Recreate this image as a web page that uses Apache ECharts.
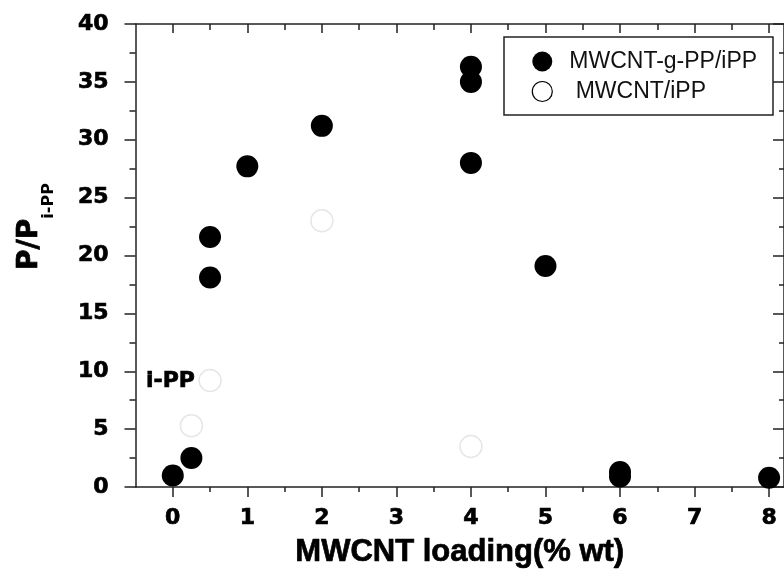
<!DOCTYPE html>
<html>
<head>
<meta charset="utf-8">
<script src="https://cdn.jsdelivr.net/npm/echarts@6/dist/echarts.min.js"></script>
<style>html,body{margin:0;padding:0;background:#fff}#c{width:784px;height:577px}</style>
</head>
<body>
<div id="c"></div>
<script>
// Data
const graftedX = [0, 0.25, 0.5, 0.5, 1, 2, 4, 4, 4, 5, 6, 6, 8];
const graftedY = [1.0, 2.5, 21.6, 18.1, 27.7, 31.2, 36.3, 35.0, 28.0, 19.1, 1.3, 0.9, 0.8];
const plainX = [0.25, 0.5, 2, 4];
const plainY = [5.3, 9.2, 23.0, 3.5];
const xTickLabels = [0, 1, 2, 3, 4, 5, 6, 7, 8];
const xHalfTicks = [0.5, 1.5, 2.5, 3.5, 4.5, 5.5, 6.5, 7.5];
const seriesNames = ['MWCNT-g-PP/iPP', ' MWCNT/iPP'];

const axisColor = '#222';
const tickFont = 'DejaVu Sans';
const heavy = {textBorderColor: '#000', textBorderWidth: 0.7};

const chart = echarts.init(document.getElementById('c'), null, {renderer: 'canvas'});

const xBase = {type: 'value', min: -0.5, max: 8.2, interval: 0.5, splitLine: {show: false}, gridIndex: 0};
const line = {show: true, onZero: false, lineStyle: {color: axisColor, width: 1.5}};
const noLine = {show: false, onZero: false};

chart.setOption({
  backgroundColor: '#fff',
  animation: false,
  grid: {left: 135.5, top: 24, right: -5, bottom: 90, containLabel: false},
  xAxis: [
    Object.assign({}, xBase, {
      position: 'bottom',
      name: 'MWCNT loading(% wt)',
      nameLocation: 'middle',
      nameGap: 50,
      nameTextStyle: Object.assign({fontFamily: 'Liberation Sans', fontWeight: 'bold', fontSize: 31, color: '#000'}, heavy),
      axisLine: line,
      axisTick: {show: true, inside: false, length: 10, customValues: xTickLabels, lineStyle: {color: axisColor, width: 1.5}},
      axisLabel: Object.assign({show: true, customValues: xTickLabels, margin: 20, fontFamily: tickFont, fontWeight: 'bold', fontSize: 22, color: '#000'}, heavy)
    }),
    Object.assign({}, xBase, {
      position: 'bottom',
      axisLine: noLine,
      axisTick: {show: true, inside: false, length: 5, customValues: xHalfTicks, lineStyle: {color: axisColor, width: 1.5}},
      axisLabel: {show: false}
    }),
    Object.assign({}, xBase, {
      position: 'top',
      axisLine: line,
      axisTick: {show: true, inside: true, length: 9, customValues: xTickLabels, lineStyle: {color: axisColor, width: 1.5}},
      axisLabel: {show: false}
    }),
    Object.assign({}, xBase, {
      position: 'top',
      axisLine: noLine,
      axisTick: {show: true, inside: true, length: 6, customValues: xHalfTicks, lineStyle: {color: axisColor, width: 1.5}},
      axisLabel: {show: false}
    })
  ],
  yAxis: [
    {
      type: 'value', position: 'left', min: 0, max: 40, interval: 5,
      splitLine: {show: false},
      name: '{m|P/P}{s|i-PP}',
      nameLocation: 'middle',
      nameRotate: 90,
      nameGap: 90,
      nameTextStyle: {
        rich: {
          m: Object.assign({fontFamily: tickFont, fontWeight: 'bold', fontSize: 28, color: '#000', verticalAlign: 'top', lineHeight: 30, padding: [0, 0, 0, 58]}, heavy),
          s: {fontFamily: tickFont, fontWeight: 'bold', fontSize: 16, color: '#000', verticalAlign: 'top', lineHeight: 16, padding: [25, 0, 0, 0]}
        }
      },
      axisLine: line,
      axisTick: {show: true, inside: false, length: 11, lineStyle: {color: axisColor, width: 1.5}},
      minorTick: {show: true, splitNumber: 2, length: 6, lineStyle: {color: axisColor, width: 1.5}},
      axisLabel: Object.assign({margin: 27, fontFamily: tickFont, fontWeight: 'bold', fontSize: 22, color: '#000'}, heavy)
    },
    {
      type: 'value', position: 'right', min: 0, max: 40, interval: 5,
      splitLine: {show: false},
      axisLine: line,
      axisTick: {show: true, inside: true, length: 11, lineStyle: {color: axisColor, width: 1.5}},
      minorTick: {show: true, splitNumber: 2, length: 5, lineStyle: {color: axisColor, width: 1.5}},
      axisLabel: {show: false}
    }
  ],
  legend: {
    orient: 'vertical',
    left: 531.7,
    top: 50,
    padding: 0,
    itemGap: 7,
    itemWidth: 20,
    itemHeight: 20,
    icon: 'circle',
    textStyle: {fontFamily: 'Liberation Sans', fontSize: 23, color: '#111', padding: [0, 0, 0, 12]},
    data: [
      {name: seriesNames[0], itemStyle: {color: '#000'}},
      {name: seriesNames[1], itemStyle: {color: '#fff', borderColor: '#000', borderWidth: 1.2}}
    ]
  },
  graphic: [
    {type: 'rect', shape: {x: 504, y: 37, width: 269, height: 78}, style: {fill: 'none', stroke: '#222', lineWidth: 1.5}, z: 5},
    {type: 'text', x: 146, y: 381.5, style: {text: 'i-PP', font: 'bold 22px "DejaVu Sans"', fill: '#000', stroke: '#000', lineWidth: 0.7, verticalAlign: 'middle', align: 'left'}, z: 5}
  ],
  series: [
    {
      name: seriesNames[0], type: 'scatter', xAxisIndex: 0, yAxisIndex: 0,
      symbol: 'circle', symbolSize: 22,
      itemStyle: {color: '#000', opacity: 1},
      data: graftedX.map((x, i) => [x, graftedY[i]]),
      z: 3
    },
    {
      name: seriesNames[1], type: 'scatter', xAxisIndex: 0, yAxisIndex: 0,
      symbol: 'circle', symbolSize: 22,
      itemStyle: {color: 'rgba(255,255,255,0)', borderColor: '#e6e6e6', borderWidth: 1.5, opacity: 1},
      data: plainX.map((x, i) => [x, plainY[i]]),
      z: 2
    }
  ]
});
</script>
</body>
</html>
